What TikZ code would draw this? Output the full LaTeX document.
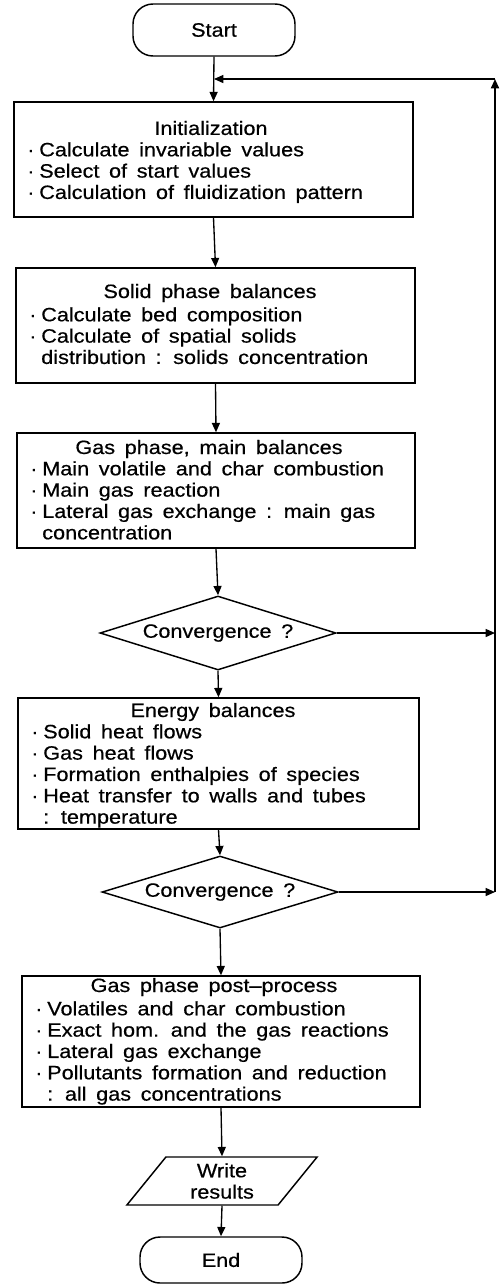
\documentclass[tikz,border=0pt]{standalone}
\usepackage{fontspec}
\setmainfont{Liberation Sans}[FakeStretch=1.12, WordSpace=1.6, FakeBold=0.5]
\usetikzlibrary{arrows.meta,shapes.geometric}
\newcommand\itemdot{\makebox[9pt][l]{·}}
\newcommand\itemgap{\hspace*{9pt}}
\begin{document}
\begin{tikzpicture}[x=0.75pt,y=-0.75pt,
  every node/.style={font=\fontsize{14.5}{16}\selectfont, inner sep=0pt},
  box/.style={draw, line width=1.1pt, rectangle},
  term/.style={draw, line width=1.1pt, rectangle, rounded corners=15pt, minimum width=121.5pt},
  dec/.style={draw, line width=1.1pt, diamond, aspect=3.3, minimum width=177pt},
  io/.style={draw, line width=1.1pt, trapezium, trapezium left angle=58, trapezium right angle=122, trapezium stretches=true, minimum width=143pt, minimum height=36pt, align=center},
  items/.style={anchor=north west, align=left},
  ttl/.style={anchor=center},
  arr/.style={line width=1pt, -{Triangle[length=7pt,width=6pt]}}]
\useasboundingbox (0,0) rectangle (500,1286);

% shapes
\node[term, minimum height=39pt] (start) at (214,30) {Start};
\node[box, minimum width=299.25pt, minimum height=86.25pt] (init) at (213.5,159.5) {};
\node[box, minimum width=299.25pt, minimum height=86.25pt] (solid) at (215.5,325.5) {};
\node[box, minimum width=298.5pt, minimum height=86.25pt] (gas) at (216,490.5) {};
\node[dec, minimum height=55.5pt] (c1) at (218,633) {Convergence ?};
\node[box, minimum width=300.75pt, minimum height=98.25pt] (energy) at (218.5,763.5) {};
\node[dec, minimum height=54pt] (c2) at (220,892) {Convergence ?};
\node[box, minimum width=298.5pt, minimum height=98.25pt] (post) at (221,1041.5) {};
\node[io] (wr) at (222,1181) {Write\\results};
\node[term, minimum height=34.5pt] (end) at (221,1260) {End};

% texts
\node[ttl] (initT) at (211,128) {Initialization};
\node[items] (initI) at (27,142) {\itemdot Calculate invariable values\\\itemdot Select of start values\\\itemdot Calculation of fluidization pattern};
\node[ttl] (solidT) at (210,293) {Solid phase balances};
\node[items] (solidI) at (29,307) {\itemdot Calculate bed composition\\\itemdot Calculate of spatial solids\\\itemgap distribution : solids concentration};
\node[ttl] (gasT) at (209,449) {Gas phase, main balances};
\node[items] (gasI) at (30,461) {\itemdot Main volatile and char combustion\\\itemdot Main gas reaction\\\itemdot Lateral gas exchange : main gas\\\itemgap concentration};
\node[ttl] (energyT) at (213,712) {Energy balances};
\node[items] (energyI) at (31,724) {\itemdot Solid heat flows\\\itemdot Gas heat flows\\\itemdot Formation enthalpies of species\\\itemdot Heat transfer to walls and tubes\\\itemgap : temperature};
\node[ttl] (postT) at (214,987) {Gas phase post–process};
\node[items] (postI) at (35,1001) {\itemdot Volatiles and char combustion\\\itemdot Exact hom. and the gas reactions\\\itemdot Lateral gas exchange\\\itemdot Pollutants formation and reduction\\\itemgap : all gas concentrations};

% connector points
\coordinate (jn) at (214,79);
\coordinate (rt) at (495,79);
\coordinate (r1) at (c1.east -| rt);
\coordinate (r2) at (c2.east -| rt);

% connectors
\draw[arr] (start.south) -- (init.north);
\draw[arr] (init.south) -- (solid.north);
\draw[arr] (solid.south) -- (gas.north);
\draw[arr] (gas.south) -- (c1.north);
\draw[arr] (c1.south) -- (energy.north);
\draw[arr] (energy.south) -- (c2.north);
\draw[arr] (c2.south) -- (post.north);
\draw[arr] (post.south) -- (wr.north);
\draw[arr] (wr.south) -- (end.north);
\draw[arr] (c1.east) -- (r1);
\draw[arr] (c2.east) -- (r2);
\draw[arr, line width=1.3pt] (r2) -- (rt);
\draw[arr] (rt) -- (jn);
\end{tikzpicture}
\end{document}
